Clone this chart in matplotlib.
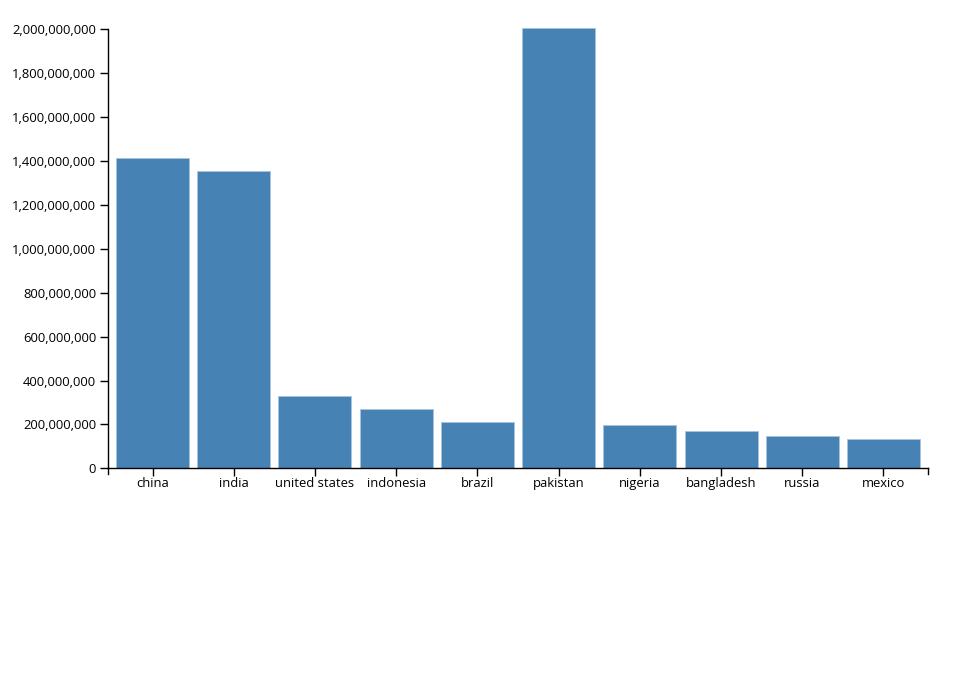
import matplotlib
matplotlib.use("Agg")
import matplotlib.pyplot as plt
from matplotlib.ticker import FuncFormatter
from matplotlib.lines import Line2D

countries = ["china", "india", "united states", "indonesia", "brazil",
             "pakistan", "nigeria", "bangladesh", "russia", "mexico"]
population = [1415000000, 1353000000, 329000000, 269000000, 212000000,
              2006000000, 197000000, 169000000, 146000000, 132000000]

plt.rcParams['font.family'] = ['Open Sans', 'DejaVu Sans']


def main():
    fig = plt.figure(figsize=(9.6, 7.0), dpi=100)
    W, H = 960, 700
    left, right, top, bottom = 108, 928, 29.3, 468.3
    ax = fig.add_axes([left / W, 1 - bottom / H, (right - left) / W, (bottom - top) / H])

    n = len(countries)
    pos = list(range(n))
    ax.bar(pos, population, width=0.9, color="#4682b4", edgecolor="#a9c4dc",
           linewidth=0.6, clip_on=False, zorder=2)

    # outer padding of the band scale
    ax.set_xlim(-0.548, n - 1 + 0.548)
    ax.set_ylim(0, 2e9)
    ax.set_yticks([i * 2e8 for i in range(11)])
    ax.yaxis.set_major_formatter(FuncFormatter(lambda v, p: "{:,.0f}".format(v)))
    ax.set_xticks(pos)
    ax.set_xticklabels(countries)

    for s in ["top", "right"]:
        ax.spines[s].set_visible(False)
    ax.spines["left"].set_linewidth(1.0)
    ax.spines["bottom"].set_linewidth(1.0)
    ax.tick_params(axis="both", length=6, width=1, color="black",
                   labelsize=9.4, labelcolor="black")
    ax.tick_params(axis="y", pad=2.5)
    ax.tick_params(axis="x", pad=0.5)

    # outer ticks at the ends of the x domain, d3 style
    for xx in (left, right):
        fig.add_artist(Line2D([xx / W, xx / W], [1 - bottom / H, 1 - (bottom + 6) / H],
                              color="black", linewidth=1.0))

    fig.savefig("out.png", dpi=100, facecolor="white")


if __name__ == "__main__":
    main()
